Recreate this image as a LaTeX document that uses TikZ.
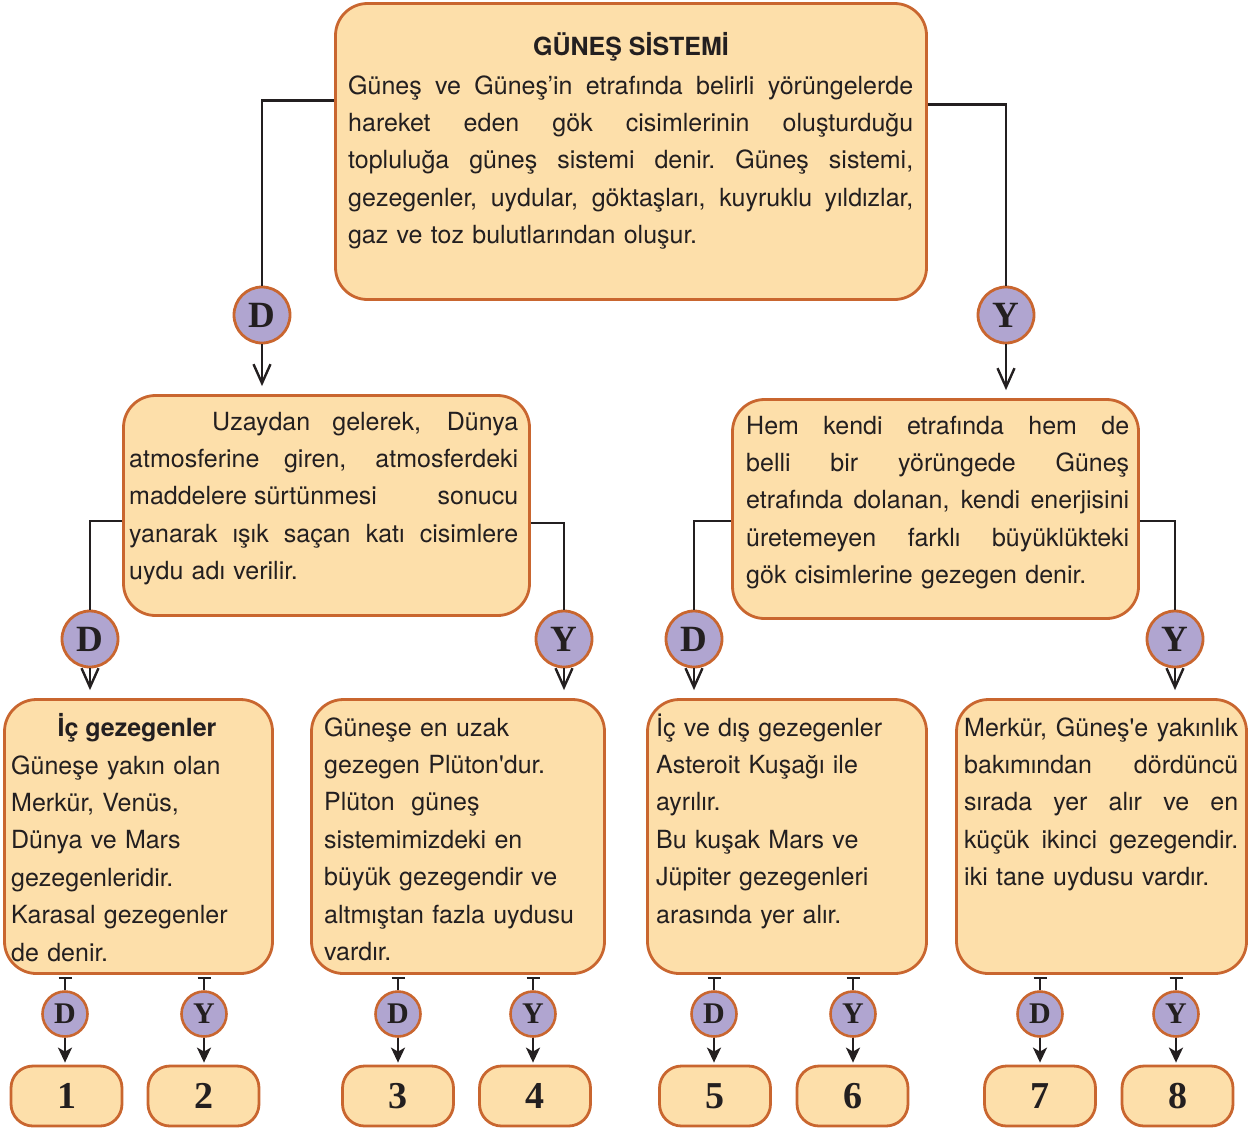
\documentclass[tikz,border=0pt]{standalone}
\usepackage{fontspec}
\setmainfont{TeX Gyre Heros}[Ligatures=TeXOff]
\newfontfamily\serifbf{Liberation Serif}[Ligatures=TeXOff]
\usetikzlibrary{arrows.meta}
\definecolor{boxfill}{HTML}{FDDFAA}
\definecolor{bord}{HTML}{C9662F}
\definecolor{circfill}{HTML}{B0A5D0}
\definecolor{dark}{HTML}{231F20}
\newcommand\jl[1]{\makebox[\hsize][s]{\spaceskip=\fontdimen2\font plus 1fil\relax\xspaceskip=\spaceskip #1}}
\tikzset{
  box/.style={draw=bord, fill=boxfill, line width=2.8pt, rounded corners=32pt, inner sep=0pt},
  numbox/.style={draw=bord, fill=boxfill, line width=2.8pt, rounded corners=22pt, inner sep=0pt,
    minimum width=111pt, minimum height=60pt, font=\serifbf\bfseries\fontsize{38}{40}\selectfont, text=dark},
  bigc/.style={circle, draw=bord, fill=circfill, line width=2.8pt, minimum size=56pt, inner sep=0pt,
    font=\serifbf\bfseries\fontsize{37}{38}\selectfont, text=dark},
  smallc/.style={circle, draw=bord, fill=circfill, line width=2.6pt, minimum size=45pt, inner sep=0pt,
    font=\serifbf\bfseries\fontsize{30}{32}\selectfont, text=dark},
  txt/.style={anchor=north west, inner sep=0pt, text width=#1, align=left, text=dark,
    font=\fontsize{25}{37.4}\selectfont},
  ttl/.style={anchor=base, inner sep=0pt, text=dark, font=\bfseries\fontsize{25}{30}\selectfont},
  conn/.style={draw=dark, line width=2.4pt},
  barr/.style={conn, -{Straight Barb[length=19pt,width=17pt]}, shorten >=8pt},
  sarr/.style={conn, -{Stealth[length=15pt,width=14pt,inset=4pt]}, shorten >=2pt},
  tee/.style={conn, {Bar[width=13pt]}-}
}
\begin{document}
\begin{tikzpicture}[x=1pt,y=-1pt]
\useasboundingbox (0,0) rectangle (1252,1133);
% main boxes
\node[box, minimum width=591pt, minimum height=296pt] (top) at (631,151.5) {};
\node[box, minimum width=406pt, minimum height=220pt] (L2) at (326.5,505.5) {};
\node[box, minimum width=406pt, minimum height=219pt] (R2) at (935.5,509) {};
\node[box, minimum width=268pt, minimum height=274pt] (B1) at (138.5,836.5) {};
\node[box, minimum width=293pt, minimum height=274pt] (B2) at (458,836.5) {};
\node[box, minimum width=279pt, minimum height=274pt] (B3) at (787,836.5) {};
\node[box, minimum width=290pt, minimum height=274pt] (B4) at (1101.5,836.5) {};
% texts
\node[ttl] (t0) at (631,55) {GÜNEŞ SİSTEMİ};
\node[txt=565pt] (t1) at (348,67.8) {\jl{\strut Güneş ve Güneş’in etrafında belirli yörüngelerde}\\
\jl{hareket eden gök cisimlerinin oluşturduğu}\\
\jl{topluluğa güneş sistemi denir. Güneş sistemi,}\\
\jl{gezegenler, uydular, göktaşları, kuyruklu yıldızlar,}\\
gaz ve toz bulutlarından oluşur.};
\node[txt=389pt] (t2) at (129,403.8) {\jl{\strut\hspace*{83pt}Uzaydan gelerek, Dünya}\\
\jl{atmosferine giren, atmosferdeki}\\
\jl{maddelere sürtünmesi\hfill sonucu}\\
\jl{yanarak ışık saçan katı cisimlere}\\
uydu adı verilir.};
\node[txt=383pt] (t3) at (746,407.8) {\jl{\strut Hem kendi etrafında hem de}\\
\jl{belli bir yörüngede Güneş}\\
\jl{etrafında dolanan, kendi enerjisini}\\
\jl{üretemeyen farklı büyüklükteki}\\
gök cisimlerine gezegen denir.};
\node[ttl] (t4a) at (137,736) {İç gezegenler};
\node[txt=262pt] (t4) at (11,747.8) {\strut Güneşe yakın olan\\
Merkür, Venüs,\\
Dünya ve Mars\\
gezegenleridir.\\
Karasal gezegenler\\
de denir.};
\node[txt=280pt] (t5) at (324,709.8) {\strut Güneşe en uzak\\
gezegen Plüton'dur.\\
Plüton\ \ güneş\\
sistemimizdeki en\\
büyük gezegendir ve\\
altmıştan fazla uydusu\\
vardır.};
\node[txt=270pt] (t6) at (656,709.8) {\strut İç ve dış gezegenler\\
Asteroit Kuşağı ile\\
ayrılır.\\
Bu kuşak Mars ve\\
Jüpiter gezegenleri\\
arasında yer alır.};
\node[txt=274pt] (t7) at (964,709.8) {\jl{\strut Merkür, Güneş'e yakınlık}\\
\jl{bakımından\hfill dördüncü}\\
\jl{sırada yer alır ve en}\\
\jl{küçük ikinci gezegendir.}\\
iki tane uydusu vardır.};
% big circles
\node[bigc] (D1) at (262,315) {D};
\node[bigc] (Y1) at (1006,315) {Y};
\node[bigc] (D2) at (90,639) {D};
\node[bigc] (Y2) at (564,639) {Y};
\node[bigc] (D3) at (694,639) {D};
\node[bigc] (Y3) at (1175,639) {Y};
% connectors level 1
\draw[conn] ([yshift=51pt]top.west) -| (D1);
\draw[conn] ([yshift=47pt]top.east) -| (Y1);
\draw[barr] (D1) -- (D1 |- L2.north);
\draw[barr] (Y1) -- (Y1 |- R2.north);
% level 2
\draw[conn] ([yshift=-15.5pt]L2.west) -| (D2);
\draw[conn] ([yshift=-17.5pt]L2.east) -| (Y2);
\draw[conn] ([yshift=-12pt]R2.west) -| (D3);
\draw[conn] ([yshift=-12pt]R2.east) -| (Y3);
\draw[barr] (D2) -- (D2 |- B1.north);
\draw[barr] (Y2) -- (Y2 |- B2.north);
\draw[barr] (D3) -- (D3 |- B3.north);
\draw[barr] (Y3) -- (Y3 |- B4.north);
% small circles
\node[smallc] (s1) at (65,1014) {D};
\node[smallc] (s2) at (204,1014) {Y};
\node[smallc] (s3) at (398,1014) {D};
\node[smallc] (s4) at (533,1014) {Y};
\node[smallc] (s5) at (714,1014) {D};
\node[smallc] (s6) at (853,1014) {Y};
\node[smallc] (s7) at (1040,1014) {D};
\node[smallc] (s8) at (1176,1014) {Y};
% number boxes
\node[numbox] (n1) at (66.5,1096) {1};
\node[numbox] (n2) at (203.5,1096) {2};
\node[numbox] (n3) at (398,1096) {3};
\node[numbox] (n4) at (535,1096) {4};
\node[numbox] (n5) at (715,1096) {5};
\node[numbox] (n6) at (852.5,1096) {6};
\node[numbox] (n7) at (1040,1096) {7};
\node[numbox] (n8) at (1177.5,1096) {8};
% level 3
\foreach \s/\b in {s1/B1,s2/B1,s3/B2,s4/B2,s5/B3,s6/B3,s7/B4,s8/B4}{
  \draw[tee] ([yshift=-2pt]\s |- \b.south) -- (\s);
}
\foreach \s/\n in {s1/n1,s2/n2,s3/n3,s4/n4,s5/n5,s6/n6,s7/n7,s8/n8}{
  \draw[sarr] (\s) -- (\s |- \n.north);
}
\end{tikzpicture}
\end{document}
